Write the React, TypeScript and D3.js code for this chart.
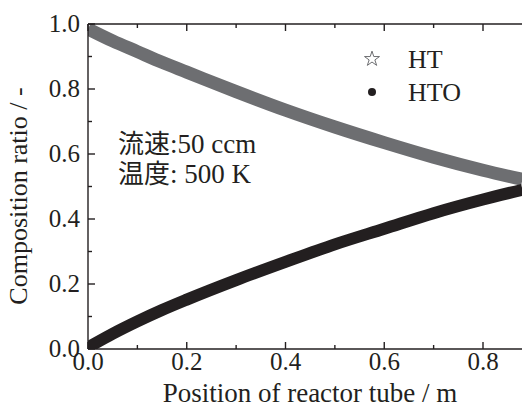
import React from 'react';
import * as d3 from 'd3';

// values
const positions = [0, 0.05, 0.1, 0.15, 0.2, 0.3, 0.4, 0.5, 0.6, 0.7, 0.8, 0.88];
const htValues = [0.985, 0.948, 0.915, 0.882, 0.852, 0.792, 0.735, 0.683, 0.635, 0.59, 0.55, 0.522];
const htoValues = [0.005, 0.047, 0.085, 0.12, 0.152, 0.212, 0.268, 0.322, 0.37, 0.418, 0.46, 0.49];
const xTicks = [0, 0.2, 0.4, 0.6, 0.8];
const yTicks = [0, 0.2, 0.4, 0.6, 0.8, 1.0];
const minorX = [0.1, 0.3, 0.5, 0.7];
const minorY = [0.1, 0.3, 0.5, 0.7, 0.9];

const SERIF = "'Liberation Serif'";
const CJK = "'Noto Sans CJK JP'";
const INK = '#231f20';
const GREY = '#6d6e71';

const left = 88, top = 24, bottom = 349, right = 522;
const x = d3.scaleLinear().domain([0, 0.88]).range([left, 522.5]);
const y = d3.scaleLinear().domain([0, 1]).range([bottom, top]);
const fmt = d3.format('.1f');

const line = d3.line<number>()
  .x((_, i) => x(positions[i]))
  .y(d => y(d))
  .curve(d3.curveMonotoneX);

const star = d3.symbol().type(d3.symbolStar).size(70)()!;

export default function App() {
  const txt = (size: number) => ({ fontFamily: SERIF, fontSize: size, fill: INK });

  return (
    <svg width={522} height={408} style={{ position: 'absolute', left: 0, top: 0, background: '#fff' }}>
      <defs>
        <clipPath id="plot">
          <rect x={left} y={top} width={right - left} height={bottom - top} />
        </clipPath>
      </defs>

      <g clipPath="url(#plot)">
        <path d={line(htValues)!} fill="none" stroke={GREY} strokeWidth={13} />
        <path d={line(htoValues)!} fill="none" stroke={INK} strokeWidth={12} />
      </g>

      {/* frame and inward ticks */}
      <g stroke={INK} strokeWidth={1.4}>
        <line x1={left} x2={right} y1={bottom} y2={bottom} />
        <line x1={left} x2={right} y1={top} y2={top} />
        <line x1={left} x2={left} y1={top} y2={bottom} />
        {xTicks.concat(minorX).map(t => {
          const len = xTicks.includes(t) ? 7 : 4;
          return (
            <g key={'x' + t}>
              <line x1={x(t)} x2={x(t)} y1={bottom} y2={bottom - len} />
              <line x1={x(t)} x2={x(t)} y1={top} y2={top + len} />
            </g>
          );
        })}
        {yTicks.concat(minorY).map(t => {
          const len = yTicks.includes(t) ? 7 : 4;
          return <line key={'y' + t} x1={left} x2={left + len} y1={y(t)} y2={y(t)} />;
        })}
      </g>

      {xTicks.map(t => (
        <text key={'xl' + t} x={x(t)} y={370} textAnchor="middle" style={txt(25)}>{fmt(t)}</text>
      ))}
      {yTicks.map(t => (
        <text key={'yl' + t} x={80} y={y(t) + 8} textAnchor="end" style={txt(25)}>{fmt(t)}</text>
      ))}

      <text x={310} y={402} textAnchor="middle" style={txt(27)}>Position of reactor tube / m</text>
      <text transform="translate(27,196) rotate(-90)" textAnchor="middle" style={txt(26)}>Composition ratio / -</text>

      {/* legend */}
      <path d={star} transform="translate(372,59)" fill="none" stroke={GREY} strokeWidth={1} />
      <circle cx={372} cy={92} r={4} fill={INK} />
      <text x={408} y={68} style={txt(26)}>HT</text>
      <text x={408} y={101} style={txt(26)}>HTO</text>

      {/* conditions */}
      <text x={118} y={153} style={txt(27)}>
        <tspan style={{ fontFamily: CJK, fontSize: 26 }}>流速</tspan>:50 ccm
      </text>
      <text x={118} y={183} style={txt(27)}>
        <tspan style={{ fontFamily: CJK, fontSize: 26 }}>温度</tspan>: 500 K
      </text>
    </svg>
  );
}
